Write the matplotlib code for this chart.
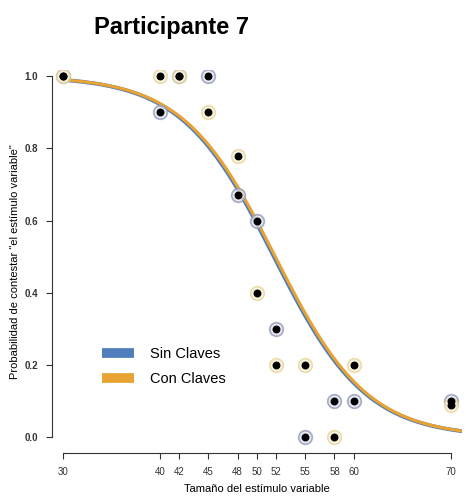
import numpy as np
import matplotlib.pyplot as plt

plt.rcParams['font.family'] = ['Liberation Sans', 'DejaVu Sans']

# estimulos y proporciones observadas
x_ticks = [30, 40, 42, 45, 48, 50, 52, 55, 58, 60, 70]
sin_x = [30, 40, 42, 45, 48, 50, 52, 55, 58, 60, 70]
sin_y = [1.0, 0.9, 1.0, 1.0, 0.67, 0.6, 0.3, 0.0, 0.1, 0.1, 0.1]
con_x = [30, 40, 42, 45, 48, 50, 52, 55, 58, 60, 70]
con_y = [1.0, 1.0, 1.0, 0.9, 0.78, 0.4, 0.2, 0.2, 0.0, 0.2, 0.09]

# parametros del ajuste logistico (punto medio, pendiente)
sin_mid, sin_scale = 51.75, 4.75
con_mid, con_scale = 51.9, 4.75

col_sin = '#4f7dbd'
col_con = '#e8a332'

fig = plt.figure(figsize=(4.66, 4.97), dpi=100)
ax = fig.add_axes([0.1116, 0.0885, 0.8794, 0.7705])

xs = np.linspace(30, 71, 300)
ax.plot(xs, 1 / (1 + np.exp((xs - sin_mid) / sin_scale)), color=col_sin, lw=2.8, zorder=2)
ax.plot(xs, 1 / (1 + np.exp((xs - con_mid) / con_scale)), color=col_con, lw=2.2, zorder=3)

# halos de cada condicion y punto central
ax.scatter(sin_x, sin_y, s=95, facecolor='#dfe3ee', edgecolor='#8e98b6', alpha=0.75, lw=1.3, zorder=4)
ax.scatter(con_x, con_y, s=95, facecolor='#faf3d8', edgecolor='#e6d49a', alpha=0.75, lw=1.3, zorder=4)
ax.scatter(sin_x, sin_y, s=22, color='black', zorder=5)
ax.scatter(con_x, con_y, s=22, color='black', zorder=5)

ax.set_xlim(28.87, 71.13)
ax.set_ylim(-0.044, 1.017)
for s in ['top', 'right']:
    ax.spines[s].set_visible(False)
ax.spines['left'].set_bounds(0, 1)
ax.spines['bottom'].set_bounds(30, 70)
ax.spines['left'].set_color('#333333')
ax.spines['bottom'].set_color('#333333')

ax.set_xticks(x_ticks)
ax.set_xticklabels([str(t) for t in x_ticks], fontsize=7)
ax.set_yticks([0.0, 0.2, 0.4, 0.6, 0.8, 1.0])
ax.set_yticklabels(['0.0', '0.2', '0.4', '0.6', '0.8', '1.0'], fontsize=7, fontweight='bold')
ax.tick_params(length=4, width=0.8, colors='#333333', pad=6)

ax.set_xlabel('Tamaño del estímulo variable', fontsize=8, labelpad=5)
ax.set_ylabel('Probabilidad de contestar "el estímulo variable"', fontsize=8, labelpad=3)

fig.text(0.367, 0.944, 'Participante 7', fontsize=17, fontweight='bold', ha='center', va='center')

ax.plot([], [], color=col_sin, lw=7, solid_capstyle='butt', label='Sin Claves')
ax.plot([], [], color=col_con, lw=7, solid_capstyle='butt', label='Con Claves')
ax.legend(loc='lower left', bbox_to_anchor=(0.09, 0.14), frameon=False, fontsize=10.5,
          handlelength=2.2, labelspacing=0.8, handletextpad=1.1)

fig.savefig('out.png', dpi=100)
